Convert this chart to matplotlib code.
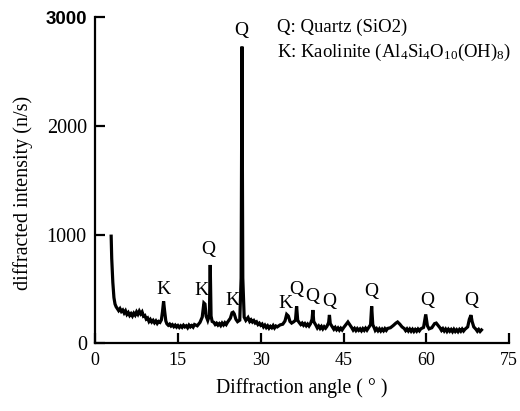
import matplotlib.pyplot as plt

plt.rcParams['font.family'] = 'Liberation Serif'
plt.rcParams['mathtext.fontset'] = 'custom'
plt.rcParams['mathtext.rm'] = 'Liberation Serif'
plt.rcParams['mathtext.it'] = 'Liberation Serif:italic'

# diffraction angle (deg) and intensity (n/s)
angle = [2.9, 3.0, 3.2, 3.4, 3.6, 3.8, 4.0, 4.25, 4.5, 4.75, 5.0, 5.25, 5.5, 5.75, 6.0,
         6.25, 6.5, 6.75, 7.0, 7.25, 7.5, 7.75, 8.0, 8.25, 8.5, 8.75, 9.0, 9.25, 9.5,
         9.75, 10.0, 10.25, 10.5, 10.75, 11.0, 11.25, 11.5, 11.75, 12.0, 12.2, 12.4,
         12.6, 12.8, 13.0, 13.25, 13.5, 13.75, 14.0, 14.25, 14.5, 14.75, 15.0, 15.25,
         15.5, 15.75, 16.0, 16.25, 16.5, 16.75, 17.0, 17.25, 17.5, 17.75, 18.0, 18.5,
         19.0, 19.4, 19.7, 19.9, 20.1, 20.4, 20.7, 20.85, 21.0, 21.2, 21.5, 21.75, 22.0,
         22.25, 22.5, 22.75, 23.0, 23.25, 23.5, 23.75, 24.0, 24.5, 24.8, 25.0, 25.2,
         25.5, 25.8, 26.2, 26.45, 26.6, 26.75, 27.0, 27.3, 27.7, 28.0, 28.25, 28.5,
         28.75, 29.0, 29.25, 29.5, 29.75, 30.0, 30.25, 30.5, 30.75, 31.0, 31.25, 31.5,
         31.75, 32.0, 32.25, 32.5, 32.75, 33.0, 33.5, 34.0, 34.4, 34.7, 35.0, 35.3,
         35.6, 36.0, 36.3, 36.5, 36.7, 37.0, 37.25, 37.5, 37.75, 38.0, 38.25, 38.5,
         38.75, 39.0, 39.3, 39.45, 39.6, 40.0, 40.25, 40.5, 40.75, 41.0, 41.25, 41.5,
         41.75, 42.0, 42.3, 42.45, 42.6, 43.0, 43.25, 43.5, 43.75, 44.0, 44.25, 44.5,
         44.75, 45.0, 45.5, 45.8, 46.2, 46.5, 46.75, 47.0, 47.25, 47.5, 47.75, 48.0,
         48.25, 48.5, 48.75, 49.0, 49.25, 49.5, 49.9, 50.1, 50.3, 50.6, 50.75, 51.0,
         51.25, 51.5, 51.75, 52.0, 52.25, 52.5, 52.75, 53.0, 53.5, 54.0, 54.5, 54.8,
         55.2, 55.6, 56.0, 56.25, 56.5, 56.75, 57.0, 57.25, 57.5, 57.75, 58.0, 58.25,
         58.5, 58.75, 59.0, 59.5, 59.9, 60.2, 60.5, 61.0, 61.5, 61.8, 62.2, 62.5, 62.75,
         63.0, 63.25, 63.5, 63.75, 64.0, 64.25, 64.5, 64.75, 65.0, 65.25, 65.5, 65.75,
         66.0, 66.25, 66.5, 66.75, 67.0, 67.5, 67.8, 68.1, 68.3, 68.6, 69.0, 69.25,
         69.5, 69.75, 70.0]
intensity = [985, 780, 560, 420, 360, 335, 320, 300, 318, 292, 305, 278, 298, 265, 282,
             255, 272, 250, 276, 258, 288, 266, 295, 270, 288, 248, 255, 222, 232,
             200, 218, 195, 210, 188, 205, 182, 200, 192, 215, 290, 385,
             290, 205, 178, 165, 176, 158, 170, 152, 166, 148, 162, 145,
             160, 146, 165, 150, 160, 142, 166, 150, 162, 148, 172, 160,
             192, 240, 370, 360, 250, 210, 260, 720, 250, 200, 192, 172, 184,
             166, 180, 162, 185, 168, 188, 172, 194, 230, 280, 285, 270,
             220, 198, 212, 600, 2730, 600, 240, 210, 236, 200, 215, 195,
             208, 186, 196, 172, 184, 165, 176, 150, 166, 144, 160, 138,
             155, 142, 162, 140, 158, 150, 168, 175, 205, 265, 250, 200,
             185, 198, 212, 340, 210, 188, 172, 185, 165, 180, 160, 176,
             158, 178, 220, 305, 200, 165, 140, 158, 136, 154, 132, 152,
             138, 155, 190, 260, 180, 148, 128, 145, 124, 140, 120, 138,
             122, 142, 175, 195, 165, 142, 120, 136, 116, 134, 118, 132,
             114, 134, 118, 138, 120, 140, 170, 340, 170, 138, 118, 134,
             114, 132, 112, 130, 114, 134, 118, 136, 142, 162, 185, 195,
             175, 150, 135, 116, 132, 112, 130, 110, 128, 108, 126, 110,
             130, 114, 132, 145, 265, 160, 132, 142, 180, 185, 160, 140, 118,
             134, 112, 130, 108, 128, 110, 126, 106, 128, 108, 124, 106,
             126, 110, 130, 112, 128, 150, 220, 258, 200, 150, 128, 110,
             126, 108, 122]

# peak labels: phase letter, label position
peak_names = ['Q', 'K', 'K', 'Q', 'K', 'K', 'Q', 'Q', 'Q', 'Q', 'Q', 'Q']
peak_x = [26.5, 12.4, 19.3, 20.5, 24.9, 34.4, 36.5, 39.4, 42.4, 50.1, 60.1, 68.1]
peak_y = [2880, 497, 488, 862, 396, 365, 494, 426, 380, 472, 389, 389]

fig = plt.figure(figsize=(5.2, 4.11), dpi=100)
ax = fig.add_axes([0.183, 0.165, 0.796, 0.793])

ax.plot(angle, intensity, color='black', lw=2.3, solid_joinstyle='miter')

for name, px, py in zip(peak_names, peak_x, peak_y):
    ax.text(px, py, name, ha='center', va='center', fontsize=14)

ax.text(32.9, 2910, 'Q: Quartz (SiO2)', ha='left', va='center', fontsize=13.5)
ax.text(32.9, 2680, r'K: Kaolinite (Al$_4$Si$_4$O$_{10}$(OH)$_8$)',
        ha='left', va='center', fontsize=13.5)

ax.set_xlim(0, 75)
ax.set_ylim(0, 3000)
ax.set_xticks([0, 15, 30, 45, 60, 75])
ax.set_yticks([0, 1000, 2000, 3000])
ax.spines['top'].set_visible(False)
ax.spines['right'].set_visible(False)
ax.spines['left'].set_linewidth(1.6)
ax.spines['bottom'].set_linewidth(1.6)
ax.tick_params(direction='in', length=7, width=1.6)
ax.tick_params(axis='x', labelsize=13, pad=6)
ax.tick_params(axis='y', labelsize=14.5, pad=6)

# top label in the original is set in a bold sans face
top = ax.yaxis.get_major_ticks()[-1].label1
top.set_fontfamily('Liberation Sans')
top.set_fontweight('bold')
top.set_fontsize(13.5)

ax.set_xlabel('Diffraction angle ( ° )', fontsize=14.2)
ax.set_ylabel('diffracted intensity (n/s)', fontsize=14.5)
ax.xaxis.set_label_coords(0.5, -0.138)
ax.yaxis.set_label_coords(-0.174, 0.46)
ax.xaxis.label.set_va('center')
ax.yaxis.label.set_va('center')

plt.savefig('out.png', dpi=100)
